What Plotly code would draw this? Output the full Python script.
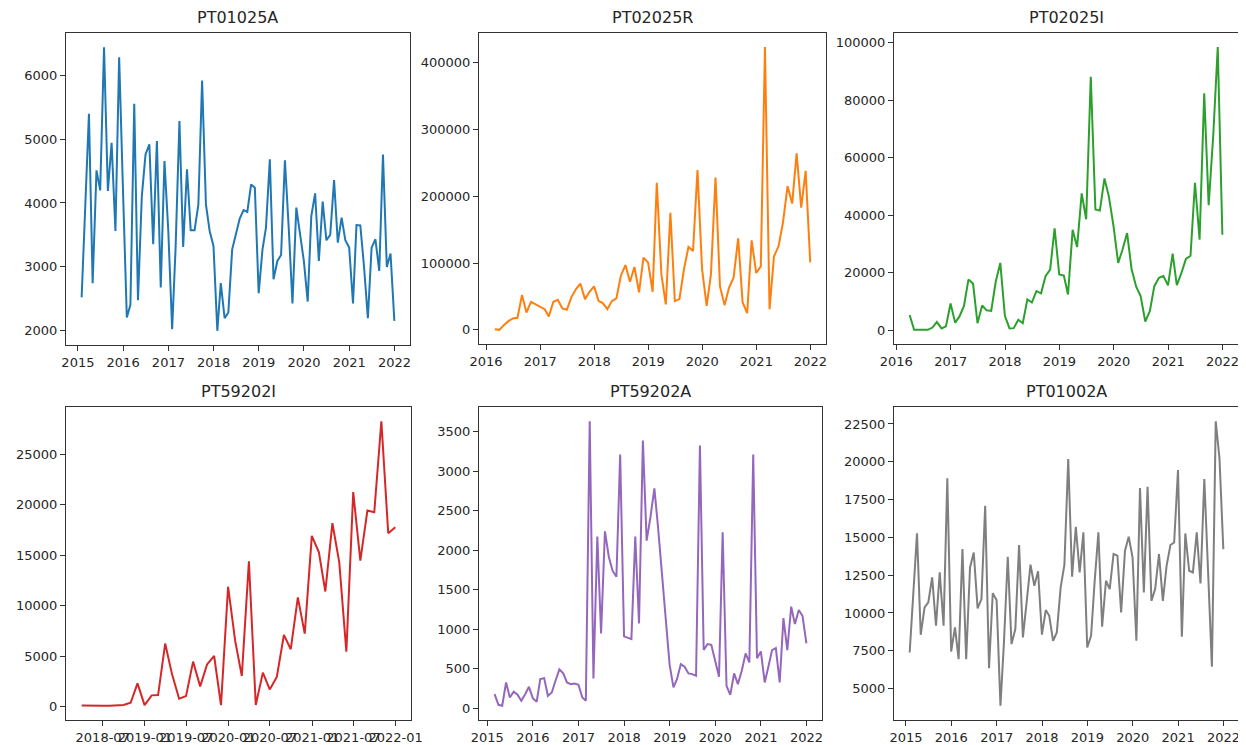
import pandas as pd
import plotly.graph_objects as go

W, H = 1246, 745
OFF = 8  # default page body margin in the browser
FW, FH = W - OFF, H - OFF

# ---- data (monthly, month-end) ----
titles = ["PT01025A", "PT02025R", "PT02025I", "PT59202I", "PT59202A", "PT01002A"]
starts = ["2015-01-31", "2016-02-29", "2016-03-31", "2018-03-31", "2015-02-28", "2015-01-31"]

pt01025a = [2520, 4000, 5400, 2742, 4512, 4198, 6444, 4188, 4945, 3561, 6287, 4200,
            2204, 2402, 5556, 2475, 4100, 4762, 4919, 3352, 4971, 2674, 4658, 3561,
            2021, 3300, 5285, 3311, 4527, 3572, 3572, 3979, 5922, 3979, 3561, 3326,
            1995, 2742, 2193, 2282, 3274, 3509, 3755, 3890, 3859, 4292, 4240, 2585,
            3274, 3614, 4684, 2804, 3091, 3185, 4668, 3600, 2423, 3927, 3509, 3091,
            2454, 3796, 4151, 3091, 4021, 3415, 3499, 4360, 3379, 3770, 3415, 3300,
            2423, 3655, 3650, 3000, 2193, 3300, 3431, 2935, 4762, 2997, 3206, 2151]

pt02025r = [1000, 0, 7000, 13000, 17000, 18000, 52000, 26000, 42000, 38000, 35000,
            31000, 20000, 42000, 45000, 32000, 30000, 49000, 61000, 69000, 46000, 57000, 65000,
            43000, 40000, 31000, 43000, 47000, 81000, 97000, 72000, 94000, 56000, 108000, 101000,
            57000, 220000, 83000, 38000, 175000, 43000, 46000, 91000, 124000, 118000, 239000, 91000,
            36000, 83000, 228000, 65000, 37000, 63000, 78000, 137000, 41000, 25000, 134000, 85000,
            95000, 423000, 31000, 110000, 125000, 161000, 215000, 189000, 264000, 183000, 238000, 101000]

pt02025i = [5300, 100, 100, 100, 100, 900, 2900, 600, 1300, 9300,
            2600, 4700, 8400, 17600, 16200, 2400, 8600, 6900, 6700, 17000, 23400, 5000,
            600, 700, 3600, 2400, 10700, 9600, 13600, 12800, 18800, 21100, 35400, 19400,
            19000, 12400, 34900, 28900, 47600, 38600, 88200, 42000, 41600, 52800, 46400, 36100,
            23400, 28000, 33800, 21300, 15100, 11900, 3000, 6700, 15300, 18200, 18800, 15600,
            26600, 15700, 19900, 24800, 25900, 51300, 31500, 82400, 43500, 68000, 98500, 33200]

pt59202i = [130, 100, 100, 100, 100, 130, 170, 400, 2320, 170,
            1130, 1160, 6260, 3210, 800, 1060, 4470, 2020, 4200, 5030, 170, 11890,
            6520, 3050, 14400, 170, 3380, 1720, 2950, 7120, 5700, 10830, 7250, 16920,
            15300, 11420, 18180, 14300, 5460, 21260, 14470, 19440, 19270, 28280, 17190, 17780]

pt59202a = [177, 42, 30, 325, 135, 207, 169, 93, 177, 270, 127,
            80, 367, 380, 156, 198, 346, 490, 440, 325, 304, 312, 296,
            135, 93, 3632, 376, 2171, 946, 2238, 1917, 1740, 1664, 3209, 908,
            895, 874, 2171, 1073, 3387, 2120, 2420, 2783, 2280, 1700, 1100, 550,
            262, 367, 557, 524, 440, 431, 410, 3323, 735, 811, 802, 600,
            397, 2226, 283, 169, 440, 304, 473, 693, 579, 3209, 633, 718,
            325, 515, 735, 760, 325, 1140, 735, 1284, 1064, 1242, 1166, 819]

pt01002a = [7385, 11200, 15263, 8556, 10364, 10695, 12350, 9150, 12680, 9150, 18900, 7450,
            9040, 6940, 14220, 6940, 13010, 14000, 10300, 10920, 17090, 6350, 11310, 10850,
            3860, 8000, 13720, 7940, 8930, 14490, 8380, 10800, 13190, 11800, 12750, 8560,
            10190, 9810, 8160, 8710, 11690, 13170, 20180, 12390, 15700, 12680, 15330, 7720,
            8490, 12000, 15330, 9090, 12130, 11580, 13900, 13790, 10030, 14120, 15040, 13680,
            8160, 18260, 11360, 18350, 10800, 11580, 13900, 10800, 13120, 14490, 14660, 19450,
            8420, 15260, 12790, 12680, 15330, 11950, 18860, 12600, 6440, 22680, 20250, 14220]

series = [pt01025a, pt02025r, pt02025i, pt59202i, pt59202a, pt01002a]
ydticks = [1000, 100000, 20000, 5000, 500, 2500]

# ---- styling ----
colors = ["#1f77b4", "#ff7f0e", "#2ca02c", "#d62728", "#9467bd", "#7f7f7f"]
# plot area boxes in screenshot pixels: (left, right, top, bottom)
boxes = [(66, 410, 33, 345), (479, 826, 33, 344), (894, 1238, 33, 344),
         (66, 411, 407, 720), (479, 822, 407, 720), (894, 1239, 407, 720)]


def px(xp):
    return min(1.0, max(0.0, (xp - OFF) / FW))


def py(yp):
    return min(1.0, max(0.0, 1 - (yp - OFF) / FH))


FONT = "DejaVu Sans"
fig = go.Figure()
annotations = []
layout = dict(
    width=FW, height=FH, margin=dict(l=0, r=0, t=0, b=0),
    paper_bgcolor="white", plot_bgcolor="white", showlegend=False,
    font=dict(family=FONT, size=13, color="#262626"),
)

for i, (vals, start) in enumerate(zip(series, starts)):
    dates = pd.date_range(start=start, periods=len(vals), freq="ME")
    n = i + 1
    xa = "x" if n == 1 else f"x{n}"
    ya = "y" if n == 1 else f"y{n}"
    fig.add_trace(go.Scatter(x=dates, y=vals, mode="lines",
                             line=dict(color=colors[i], width=2),
                             xaxis=xa, yaxis=ya))
    l, r, t, b = boxes[i]
    # matplotlib-like 5% margins
    span = dates[-1] - dates[0]
    xr = [dates[0] - span * 0.05, dates[-1] + span * 0.05]
    vmin, vmax = min(vals), max(vals)
    yr = [vmin - 0.05 * (vmax - vmin), vmax + 0.05 * (vmax - vmin)]
    axis_common = dict(showgrid=False, zeroline=False, showline=True, mirror=True,
                       linecolor="#333333", linewidth=1, ticks="outside", ticklen=5,
                       tickcolor="#333333", tickfont=dict(family=FONT, size=13, color="#262626"),
                       automargin=False)
    xdict = dict(axis_common, type="date", range=[str(xr[0]), str(xr[1])],
                 domain=[px(l), px(r)], anchor=ya, tickangle=0)
    if i == 3:
        xdict.update(dtick="M6", tick0="2018-07-01", tickformat="%Y-%m")
    else:
        xdict.update(dtick="M12", tick0="2015-01-01", tickformat="%Y")
    ydict = dict(axis_common, range=yr, domain=[py(b), py(t)], anchor=xa,
                 dtick=ydticks[i], tick0=0, tickformat="d")
    layout["xaxis" if n == 1 else f"xaxis{n}"] = xdict
    layout["yaxis" if n == 1 else f"yaxis{n}"] = ydict
    annotations.append(dict(text=titles[i], x=px((l + r) / 2), y=py(t - 16),
                            xref="paper", yref="paper", showarrow=False,
                            xanchor="center", yanchor="middle",
                            font=dict(family=FONT, size=16, color="#262626")))

layout["annotations"] = annotations
fig.update_layout(**layout)
fig.write_html("out.html")
